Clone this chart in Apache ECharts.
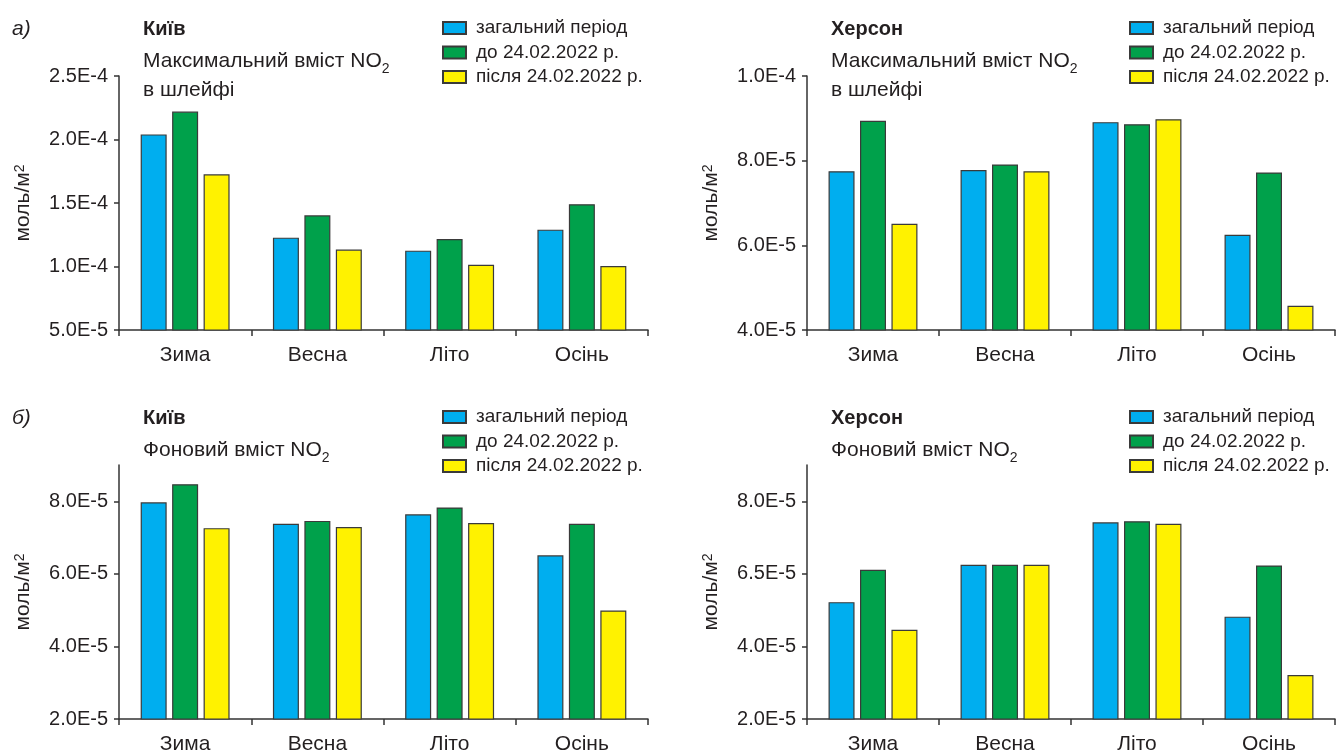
<!DOCTYPE html>
<html>
<head>
<meta charset="utf-8">
<script src="https://cdn.jsdelivr.net/npm/echarts@6/dist/echarts.min.js"></script>
<style>
html,body{margin:0;padding:0;background:#fff;}
#chart{width:1336px;height:755px;}
</style>
</head>
<body>
<div id="chart"></div>
<script>
// ---- data ----
const seasons = ['Зима', 'Весна', 'Літо', 'Осінь'];
const seriesNames = ['загальний період', 'до 24.02.2022 р.', 'після 24.02.2022 р.'];

// Kyiv, max NO2 in plume
const kyivMaxTotal  = [2.04e-4, 1.227e-4, 1.125e-4, 1.29e-4];
const kyivMaxBefore = [2.22e-4, 1.403e-4, 1.217e-4, 1.49e-4];
const kyivMaxAfter  = [1.726e-4, 1.133e-4, 1.014e-4, 1.004e-4];

// Kherson, max NO2 in plume
const khersonMaxTotal  = [7.75e-5, 7.78e-5, 8.91e-5, 6.25e-5];
const khersonMaxBefore = [8.94e-5, 7.91e-5, 8.86e-5, 7.72e-5];
const khersonMaxAfter  = [6.51e-5, 7.75e-5, 8.98e-5, 4.57e-5];

// Kyiv, background NO2
const kyivBgTotal  = [7.97e-5, 7.38e-5, 7.64e-5, 6.51e-5];
const kyivBgBefore = [8.47e-5, 7.46e-5, 7.83e-5, 7.38e-5];
const kyivBgAfter  = [7.26e-5, 7.29e-5, 7.40e-5, 4.99e-5];

// Kherson, background NO2
const khersonBgTotal  = [5.22e-5, 6.25e-5, 7.42e-5, 4.82e-5];
const khersonBgBefore = [6.11e-5, 6.25e-5, 7.45e-5, 6.23e-5];
const khersonBgAfter  = [4.46e-5, 6.25e-5, 7.38e-5, 3.21e-5];

// tick values and labels
const kyivMaxTicks = [5e-5, 1e-4, 1.5e-4, 2e-4, 2.5e-4];
const kyivMaxTickLabels = ['5.0E-5', '1.0E-4', '1.5E-4', '2.0E-4', '2.5E-4'];
const khersonMaxTicks = [4e-5, 6e-5, 8e-5, 1e-4];
const khersonMaxTickLabels = ['4.0E-5', '6.0E-5', '8.0E-5', '1.0E-4'];
const bgTicks = [2e-5, 4e-5, 6e-5, 8e-5];
const kyivBgTickLabels = ['2.0E-5', '4.0E-5', '6.0E-5', '8.0E-5'];
const khersonBgTickLabels = ['2.0E-5', '4.0E-5', '6.5E-5', '8.0E-5'];

const yName = 'моль/м{sup|2}';
const colors = ['#00aeef', '#00a14b', '#fff200'];

// ---- layout ----
const FONT = "'Liberation Sans', Arial, sans-serif";
const TXT = '#231f20';
const AX = '#333333';

const panels = [
  {grid:{left:119, top:76, width:529, height:254}, min:5e-5, max:2.5e-4, ticks:kyivMaxTicks, labels:kyivMaxTickLabels,
   data:[kyivMaxTotal, kyivMaxBefore, kyivMaxAfter]},
  {grid:{left:807, top:76, width:528, height:254}, min:4e-5, max:1e-4, ticks:khersonMaxTicks, labels:khersonMaxTickLabels,
   data:[khersonMaxTotal, khersonMaxBefore, khersonMaxAfter]},
  {grid:{left:119, top:465, width:529, height:254}, min:2e-5, max:9e-5, ticks:bgTicks, labels:kyivBgTickLabels,
   data:[kyivBgTotal, kyivBgBefore, kyivBgAfter]},
  {grid:{left:807, top:465, width:528, height:254}, min:2e-5, max:9e-5, ticks:bgTicks, labels:khersonBgTickLabels,
   data:[khersonBgTotal, khersonBgBefore, khersonBgAfter]}
];

const grids = [], xAxes = [], yAxes = [], series = [];
panels.forEach((p, i) => {
  grids.push(p.grid);
  xAxes.push({
    type:'category', gridIndex:i, data:seasons,
    axisLine:{lineStyle:{color:AX, width:1.5}},
    axisTick:{show:true, length:6, lineStyle:{color:AX, width:1.5}},
    axisLabel:{color:TXT, fontFamily:FONT, fontSize:21, margin:15},
    splitLine:{show:false}
  });
  yAxes.push({
    type:'value', gridIndex:i, min:p.min, max:p.max,
    name:yName, nameLocation:'middle', nameRotate:90, nameGap:85,
    nameTextStyle:{color:TXT, fontFamily:FONT, fontSize:21,
      rich:{sup:{fontSize:14, fontFamily:FONT, color:TXT, verticalAlign:'top', lineHeight:14}}},
    axisLine:{show:true, lineStyle:{color:AX, width:1.5}},
    axisTick:{show:true, length:5, customValues:p.ticks, lineStyle:{color:AX, width:1.5}},
    axisLabel:{color:TXT, fontFamily:FONT, fontSize:20, margin:11, customValues:p.ticks,
      formatter:(v) => {
        let best = 0, bd = Infinity;
        p.ticks.forEach((t, k) => { const d = Math.abs(t - v); if (d < bd) { bd = d; best = k; } });
        return p.labels[best];
      }},
    splitLine:{show:false}
  });
  p.data.forEach((arr, s) => {
    series.push({
      type:'bar', name:seriesNames[s], xAxisIndex:i, yAxisIndex:i,
      data:arr, barWidth:26, barGap:'21%',
      itemStyle:{color:colors[s], borderColor:'#3a3a3a', borderWidth:1.2},
      emphasis:{disabled:true}
    });
  });
});

function legendAt(left, top) {
  return {
    orient:'vertical', left:left, top:top, padding:0, itemGap:4.5,
    itemWidth:23, itemHeight:12, icon:'rect', data:seriesNames,
    selectedMode:false,
    textStyle:{color:TXT, fontFamily:FONT, fontSize:19, lineHeight:20, padding:[0,0,0,5]}
  };
}

const subRich = {
  sub:{fontSize:14, fontFamily:FONT, color:TXT, verticalAlign:'bottom', lineHeight:14}
};
function titleAt(text, left, top, opts) {
  return {
    text:text, left:left, top:top, padding:0,
    textStyle:Object.assign({color:TXT, fontFamily:FONT, fontSize:21, fontWeight:'normal', lineHeight:22, rich:subRich}, opts||{})
  };
}

const option = {
  animation:false,
  backgroundColor:'#ffffff',
  title:[
    titleAt('а)', 12, 18, {fontStyle:'italic'}),
    titleAt('Київ', 143, 18, {fontWeight:'bold', fontSize:20}),
    titleAt('Максимальний вміст NO{sub|2}\nв шлейфі', 143, 47, {lineHeight:29}),
    titleAt('Херсон', 831, 18, {fontWeight:'bold', fontSize:20}),
    titleAt('Максимальний вміст NO{sub|2}\nв шлейфі', 831, 47, {lineHeight:29}),
    titleAt('б)', 12, 407, {fontStyle:'italic'}),
    titleAt('Київ', 143, 407, {fontWeight:'bold', fontSize:20}),
    titleAt('Фоновий вміст NO{sub|2}', 143, 436, {lineHeight:29}),
    titleAt('Херсон', 831, 407, {fontWeight:'bold', fontSize:20}),
    titleAt('Фоновий вміст NO{sub|2}', 831, 436, {lineHeight:29})
  ],
  legend:[legendAt(442, 18), legendAt(1129, 18), legendAt(442, 407), legendAt(1129, 407)],
  grid:grids, xAxis:xAxes, yAxis:yAxes, series:series
};

const chart = echarts.init(document.getElementById('chart'), null, {renderer:'canvas'});
chart.setOption(option);
</script>
</body>
</html>
